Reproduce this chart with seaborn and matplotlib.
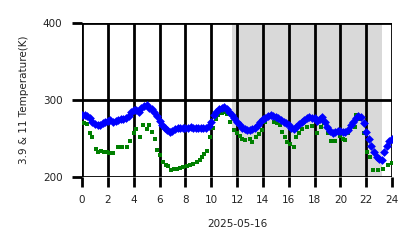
import matplotlib
matplotlib.use("Agg")
import matplotlib.pyplot as plt
import seaborn as sns
import pandas as pd

blue_t = [0.0,0.2,0.4,0.6,0.8,1.0,1.2,1.4,1.6,1.8,2.0,2.2,2.4,2.6,2.8,3.0,3.2,3.4,3.6,3.8,
          4.0,4.2,4.4,4.6,4.8,5.0,5.2,5.4,5.6,5.8,6.0,6.2,6.4,6.6,6.8,7.0,7.2,7.4,7.6,7.8,
          8.0,8.2,8.4,8.6,8.8,9.0,9.2,9.4,9.6,9.8,10.0,10.2,10.4,10.6,10.8,11.0,11.2,11.4,11.6,11.8,
          12.0,12.2,12.4,12.6,12.8,13.0,13.2,13.4,13.6,13.8,14.0,14.2,14.4,14.6,14.8,15.0,15.2,15.4,15.6,15.8,
          16.0,16.2,16.4,16.6,16.8,17.0,17.2,17.4,17.6,17.8,18.0,18.2,18.4,18.6,18.8,19.0,19.2,19.4,19.6,19.8,
          20.0,20.2,20.4,20.6,20.8,21.0,21.2,21.4,21.6,21.8,22.0,22.2,22.4,22.6,22.8,23.0,23.2,23.4,23.6,23.8,24.0]
blue_v = [280,281,279,276,272,269,267,268,270,272,273,274,271,273,274,275,275,277,279,284,
          287,287,285,289,292,293,290,288,285,279,273,268,264,261,259,260,262,263,263,264,
          264,264,265,263,263,264,263,263,263,266,272,280,285,288,290,291,288,284,280,276,
          271,267,264,262,261,261,262,264,267,271,275,277,279,281,279,278,276,274,272,270,
          268,264,262,265,269,271,274,277,278,277,276,273,275,278,272,265,260,257,258,260,
          260,259,259,261,267,272,276,279,278,270,258,250,240,232,226,223,222,233,240,247,250]

green_t = [0.15,0.4,0.62,0.8,1.05,1.25,1.5,1.7,1.9,2.1,2.4,2.8,3.1,3.46,3.7,4.0,4.2,4.5,4.75,5.0,
           5.2,5.4,5.65,5.8,6.04,6.3,6.5,6.68,6.9,7.1,7.33,7.6,7.84,8.1,8.36,8.6,8.87,9.1,9.26,9.45,
           9.65,9.9,10.17,10.4,10.55,10.8,11.0,11.2,11.45,11.8,12.0,12.23,12.4,12.6,13.0,13.2,13.5,13.7,13.9,14.16,
           14.35,14.55,14.9,15.1,15.3,15.5,15.7,15.9,16.1,16.4,16.6,16.8,17.0,17.4,17.8,18.2,18.5,18.7,19.07,19.3,
           19.6,19.96,20.2,20.36,20.6,20.75,21.1,21.2,21.5,21.8,22.05,22.3,22.55,22.9,23.3,23.7,24.0]
green_v = [270,269,257,252,237,233,234,232,232,231,231,239,239,239,247,257,262,252,267,262,
           267,258,249,235,228,220,216,214,209,210,211,212,213,214,216,217,219,222,226,230,
           234,252,264,275,280,283,284,282,272,261,257,253,250,248,249,245,252,256,261,272,
           277,280,272,270,267,259,252,246,243,239,252,257,262,265,266,257,265,270,257,247,
           247,253,250,248,257,262,265,280,275,257,233,226,209,209,211,215,218]

x_ticks = list(range(0, 25, 2))
y_ticks = [200, 300, 400]
shade = (11.6, 23.2)
xlabel = "2025-05-16"
ylabel = "3.9 & 11 Temperature(K)"

sns.set_style("white")
plt.rcParams['font.family'] = ['DejaVu Sans']

fig = plt.figure(figsize=(4.18, 2.48), dpi=100)
ax = fig.add_axes([82/418, 1-177/248, 310/418, 154/248])

ax.axvspan(shade[0], shade[1], color="#d9d9d9", zorder=0, lw=0)

dfg = pd.DataFrame({"t": green_t, "v": green_v})
dfb = pd.DataFrame({"t": blue_t, "v": blue_v})
sns.scatterplot(data=dfg, x="t", y="v", ax=ax, marker="s", color="green",
                s=10, linewidth=0, zorder=3)
sns.scatterplot(data=dfb, x="t", y="v", ax=ax, marker="D", color="blue",
                s=20, linewidth=0, zorder=4)

ax.set_xlim(0, 24)
ax.set_ylim(200, 400)
ax.set_xticks(x_ticks)
ax.set_yticks(y_ticks)
ax.grid(True, color="black", linewidth=2.0, zorder=1)
ax.set_axisbelow(False)
for s in ax.spines.values():
    s.set_visible(False)
ax.tick_params(axis="both", length=7, width=2.0, color="black", labelsize=7.5,
               labelcolor="#222222", direction="out", bottom=True, left=True)
ax.tick_params(axis="x", pad=6)
ax.tick_params(axis="y", pad=7)
ax.set_xlabel(xlabel, fontsize=7.5, color="#222222", labelpad=10)
ax.set_ylabel(ylabel, fontsize=7.5, color="#222222", labelpad=10)

fig.savefig("out.png", dpi=100)
